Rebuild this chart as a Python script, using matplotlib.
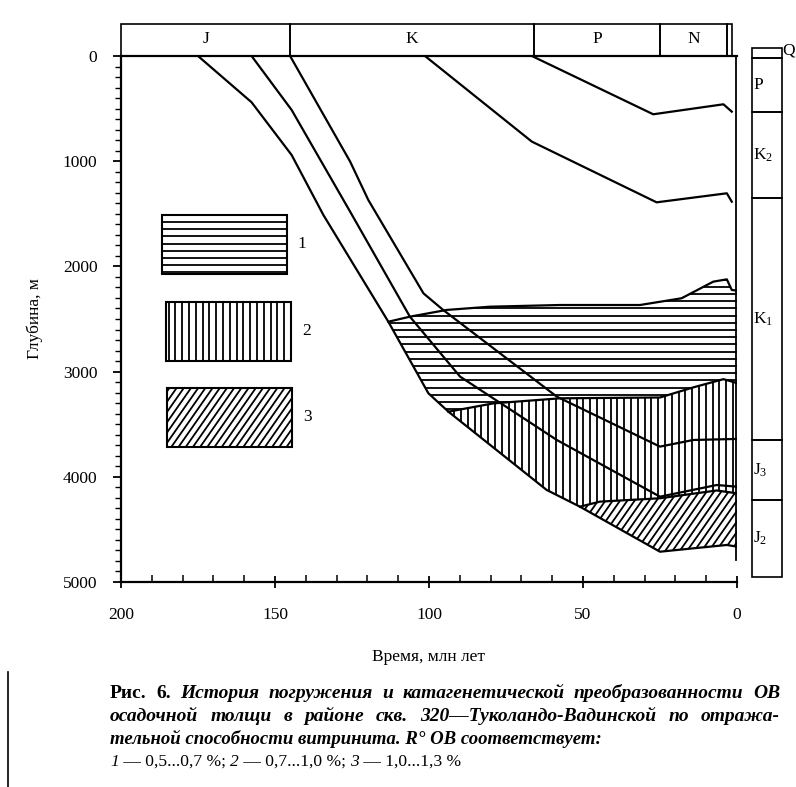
import numpy as np
import matplotlib
matplotlib.use("Agg")
import matplotlib.pyplot as plt
import matplotlib.transforms as mtransforms
from matplotlib.patches import Rectangle, Polygon
from matplotlib.collections import LineCollection

plt.rcParams["font.family"] = ["Liberation Serif", "DejaVu Serif"]
plt.rcParams["mathtext.fontset"] = "custom"
plt.rcParams["mathtext.rm"] = "Liberation Serif"
plt.rcParams["mathtext.it"] = "Liberation Serif:italic"

# шкала периодов сверху (млн лет)
period_names = ["J", "K", "P", "N", ""]
period_old = [200, 145, 66, 25, 3.3]
period_young = [145, 66, 25, 3.3, 1.7]

# колонка справа (глубина, м)
col_names = ["", "P", "K$_2$", "K$_1$", "J$_3$", "J$_2$"]
col_top = [-74, 16, 535, 1347, 3650, 4220]
col_bot = [16, 535, 1347, 3650, 4220, 4952]

# кривые погружения
base_t = [175, 157.6, 144.6, 134.3, 113.2, 100.2, 93.7, 61.8, 51, 25, 14.2, 3.3, 0]
base_d = [0, 440, 941, 1511, 2526, 3206, 3381, 4125, 4284, 4712, 4680, 4648, 4664]

j3_t = [157.6, 144.6, 125.6, 106.2, 89.9, 58.5, 25, 6.6, 0]
j3_d = [0, 513, 1480, 2478, 3048, 3650, 4189, 4078, 4094]

k1_t = [145.1, 125.6, 119.7, 101.8, 95.4, 58.5, 25, 14.2, 0]
k1_d = [0, 1004, 1369, 2256, 2414, 3238, 3713, 3650, 3640]

k2_t = [101.3, 66.6, 26.1, 3.3, 1.7]
k2_d = [0, 814, 1391, 1305, 1385]

pg_t = [66.6, 27.2, 4.4, 1.7]
pg_d = [0, 554, 459, 529]

# изолинии R° (0,5 / 0,7 / 1,0 %)
iso05_t = [113.2, 106.2, 94.3, 80.2, 57.5, 31.5, 18, 7.7, 3.3, 1.7, 0]
iso05_d = [2526, 2478, 2414, 2383, 2367, 2367, 2303, 2145, 2123, 2224, 2230]

iso07_t = [93.7, 79.1, 57.5, 25, 14.2, 4.4, 1.5, 0]
iso07_d = [3381, 3302, 3254, 3246, 3150, 3072, 3096, 3110]

iso10_t = [51, 44.5, 25, 6.6, 0]
iso10_d = [4284, 4236, 4204, 4130, 4157]

W, H = 796, 787
AXW, AXH = 616, 526

fig = plt.figure(figsize=(W / 100, H / 100), dpi=100)
ax = fig.add_axes([121 / W, 1 - 582 / H, AXW / W, AXH / H])
ax.set_xlim(200, 0)
ax.set_ylim(5000, 0)


def hatch(patch, kind, step=7.2, lw=1.3):
    # штриховка линиями, обрезанными по контуру
    if kind == "h":
        ys = np.arange(0, AXH, step)
        segs = [[(0, y), (AXW, y)] for y in ys]
    elif kind == "v":
        xs = np.arange(0, AXW, step)
        segs = [[(x, 0), (x, AXH)] for x in xs]
    else:
        k = 0.7
        xs = np.arange(-k * AXH, AXW, step)
        segs = [[(x, 0), (x + k * AXH, AXH)] for x in xs]
    segs = [[(a / AXW, b / AXH) for a, b in s] for s in segs]
    lc = LineCollection(segs, transform=ax.transAxes, colors="black", linewidths=lw)
    ax.add_collection(lc)
    lc.set_clip_path(patch)


bt = np.array(base_t)
bd = np.array(base_d)


def poly(*parts):
    return np.vstack([np.column_stack(p) for p in parts])


zone1 = poly((iso05_t, iso05_d), (iso07_t[::-1], iso07_d[::-1]), (bt[6:3:-1], bd[6:3:-1]))
zone2 = poly((iso07_t, iso07_d), (iso10_t[::-1], iso10_d[::-1]), (bt[8:5:-1], bd[8:5:-1]))
zone3 = poly((iso10_t, iso10_d), (bt[:7:-1], bd[:7:-1]))

for pts, kind, st in [(zone1, "h", 7.2), (zone2, "v", 6.8), (zone3, "d", 7.3)]:
    p = Polygon(pts, closed=True, facecolor="none", edgecolor="none")
    ax.add_patch(p)
    hatch(p, kind, st)

lw = 1.6
for t, d in [(base_t, base_d), (j3_t, j3_d), (k1_t, k1_d), (k2_t, k2_d), (pg_t, pg_d),
             (iso05_t, iso05_d), (iso07_t, iso07_d), (iso10_t, iso10_d)]:
    ax.plot(t, d, color="black", linewidth=lw)
ax.plot([0.3, 0.3], [0, 4790], color="black", linewidth=1.3)

# оси
for s in ["left", "bottom", "top"]:
    ax.spines[s].set_linewidth(1.6)
ax.spines["right"].set_visible(False)
ax.set_xticks([200, 150, 100, 50, 0])
ax.set_xticks(np.arange(0, 201, 10), minor=True)
ax.set_yticks(np.arange(0, 5001, 1000))
ax.set_yticks(np.arange(0, 5001, 100), minor=True)
ax.tick_params(axis="x", which="major", direction="inout", length=8, width=1.3,
               labelsize=12.5, pad=14)
ax.tick_params(axis="x", which="minor", direction="in", length=5, width=1.1)
ax.tick_params(axis="y", which="major", direction="out", length=6, width=1.3,
               labelsize=12.5, pad=11)
ax.tick_params(axis="y", which="minor", direction="out", length=4, width=1.0)
ax.set_xlabel("Время, млн лет", fontsize=12.5, labelpad=19)
ax.set_ylabel("Глубина, м", fontsize=12.5, labelpad=14)

# шкала периодов
tr_top = mtransforms.blended_transform_factory(ax.transData, ax.transAxes)
for name, old, young in zip(period_names, period_old, period_young):
    ax.add_patch(Rectangle((young, 1.0), old - young, 0.061, transform=tr_top,
                           fill=False, edgecolor="black", linewidth=1.2, clip_on=False))
    if name:
        ax.text((old + young) / 2, 1.033, name, transform=tr_top, ha="center",
                va="center", fontsize=12.5)

# стратиграфическая колонка
tr_col = mtransforms.blended_transform_factory(ax.transAxes, ax.transData)
for name, top, bot in zip(col_names, col_top, col_bot):
    ax.add_patch(Rectangle((1.024, top), 0.0487, bot - top, transform=tr_col,
                           fill=False, edgecolor="black", linewidth=1.2, clip_on=False))
    if name:
        ax.text(1.026, (top + bot) / 2, name, transform=tr_col, ha="left",
                va="center", fontsize=12.5)
ax.text(1.074, col_top[0] + 20, "Q", transform=tr_col, ha="left", va="center",
        fontsize=12.5)

# условные обозначения
leg = [((0.066, 0.586), "h", "1"), ((0.0726, 0.421), "v", "2"), ((0.075, 0.257), "d", "3")]
for (x0, y0), kind, lab in leg:
    r = Rectangle((x0, y0), 0.203, 0.112, transform=ax.transAxes,
                  facecolor="none", edgecolor="black", linewidth=1.5)
    ax.add_patch(r)
    hatch(r, kind, 7.2 if kind != "v" else 6.8)
    ax.text(x0 + 0.228, y0 + 0.056, lab, transform=ax.transAxes, ha="center",
            va="center", fontsize=12.5)

# подпись
renderer = fig.canvas.get_renderer()


def justify(ypx, words, x0, x1, size=14):
    arts = [fig.text(0, 1 - ypx / H, w, fontsize=size, style=st, weight=wt,
                     va="baseline") for w, st, wt in words]
    widths = [a.get_window_extent(renderer).width for a in arts]
    gap = ((x1 - x0) - sum(widths)) / (len(arts) - 1)
    x = x0
    for a, w in zip(arts, widths):
        a.set_x(x / W)
        x += w + gap


def chain(ypx, parts, x0, size=13.5):
    x = x0
    for s, st, wt in parts:
        a = fig.text(x / W, 1 - ypx / H, s, fontsize=size, style=st, weight=wt,
                     va="baseline")
        x += a.get_window_extent(renderer).width


bi = ("italic", "bold")
line1 = [("Рис.", "normal", "bold"), ("6.", "normal", "bold")] + \
    [(w,) + bi for w in "История погружения и катагенетической преобразованности ОВ".split()]
line2 = [(w,) + bi for w in "осадочной толщи в районе скв. 320—Туколандо-Вадинской по отража-".split()]
justify(698, line1, 110, 780)
justify(721, line2, 110, 780)
chain(744, [("тельной способности витринита. R° ОВ соответствует:",) + bi], 110)
chain(766, [("1", "italic", "normal"), (" — 0,5...0,7 %; ", "normal", "normal"),
            ("2", "italic", "normal"), (" — 0,7...1,0 %; ", "normal", "normal"),
            ("3", "italic", "normal"), (" — 1,0...1,3 %", "normal", "normal")], 110, size=12.6)
fig.add_artist(plt.Line2D([8 / W, 8 / W], [0, 1 - 672 / H], color="black", linewidth=1.2))

fig.savefig("out.png", dpi=100)
